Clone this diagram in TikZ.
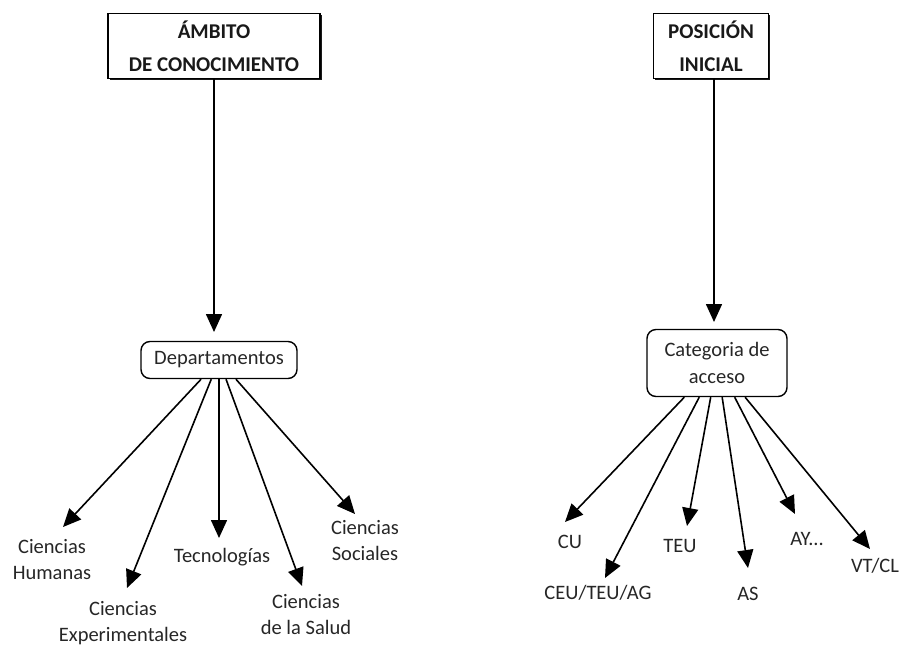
\documentclass[tikz,border=0pt]{standalone}
\usepackage{fontspec}
\setmainfont{Carlito}
\usetikzlibrary{arrows.meta,shadows}
\begin{document}
\begin{tikzpicture}[x=1pt,y=-1pt,
  headbox/.style={draw, line width=1.5pt, fill=white, align=center, inner sep=0pt,
    font=\fontsize{21}{29}\selectfont\bfseries, text=black!90,
    drop shadow={shadow xshift=1.8pt, shadow yshift=-1.8pt, fill=black, opacity=0.9}},
  midbox/.style={draw, line width=1.4pt, rounded corners=9pt, align=center, inner sep=0pt,
    font=\fontsize{20.5}{27}\selectfont, text=black!85},
  leaf/.style={align=center, inner sep=0pt, font=\fontsize{20.5}{26}\selectfont, text=black!85},
  arr/.style={line width=1.6pt, -{Triangle[length=18pt,width=16pt]}}]
\useasboundingbox (0,0) rectangle (905,646);
% headers
\node[headbox, minimum width=212pt, minimum height=65pt] (amb) at (214,46) {ÁMBITO\\[4pt]DE CONOCIMIENTO};
\node[headbox, minimum width=115pt, minimum height=65pt] (pos) at (711,46) {POSICIÓN\\[4pt]INICIAL};
% middle boxes
\node[midbox, minimum width=156pt, minimum height=37pt] (dep) at (219,360) {Departamentos};
\node[midbox, minimum width=140pt, minimum height=67pt] (cat) at (717,363) {Categoria de\\acceso};
% vertical arrows
\coordinate (ambtip) at (214,332);
\coordinate (postip) at (714,322);
\draw[arr] (amb.south -| ambtip) -- (ambtip);
\draw[arr] (pos.south -| postip) -- (postip);
% left leaves
\coordinate (tHum) at (63,527);
\coordinate (tExp) at (127,588);
\coordinate (tTec) at (219,538);
\coordinate (tSal) at (302,586);
\coordinate (tSoc) at (355,514);
\node[leaf] (hum) at (52,560) {Ciencias\\Humanas};
\node[leaf] (exp) at (123,623) {Ciencias\\Experimentales};
\node[leaf] (tec) at (222,557) {Tecnologías};
\node[leaf] (sal) at (306,615) {Ciencias\\de la Salud};
\node[leaf] (soc) at (365,541) {Ciencias\\Sociales};
\foreach \t in {tHum,tExp,tTec,tSal,tSoc} \draw[arr] (dep) -- (\t);
% right leaves
\coordinate (tCU) at (565,522);
\coordinate (tCEU) at (605,578);
\coordinate (tTEU) at (687,526);
\coordinate (tAS) at (748,568);
\coordinate (tAY) at (795,514);
\coordinate (tVT) at (870,549);
\node[leaf] (cu) at (570,542) {CU};
\node[leaf] (ceu) at (598,593) {CEU/TEU/AG};
\node[leaf] (teu) at (680,546) {TEU};
\node[leaf] (as) at (748,594) {AS};
\node[leaf] (ay) at (807,539) {AY...};
\node[leaf] (vt) at (875,566) {VT/CL};
\foreach \t in {tCU,tCEU,tTEU,tAS,tAY,tVT} \draw[arr] (cat) -- (\t);
\end{tikzpicture}
\end{document}
